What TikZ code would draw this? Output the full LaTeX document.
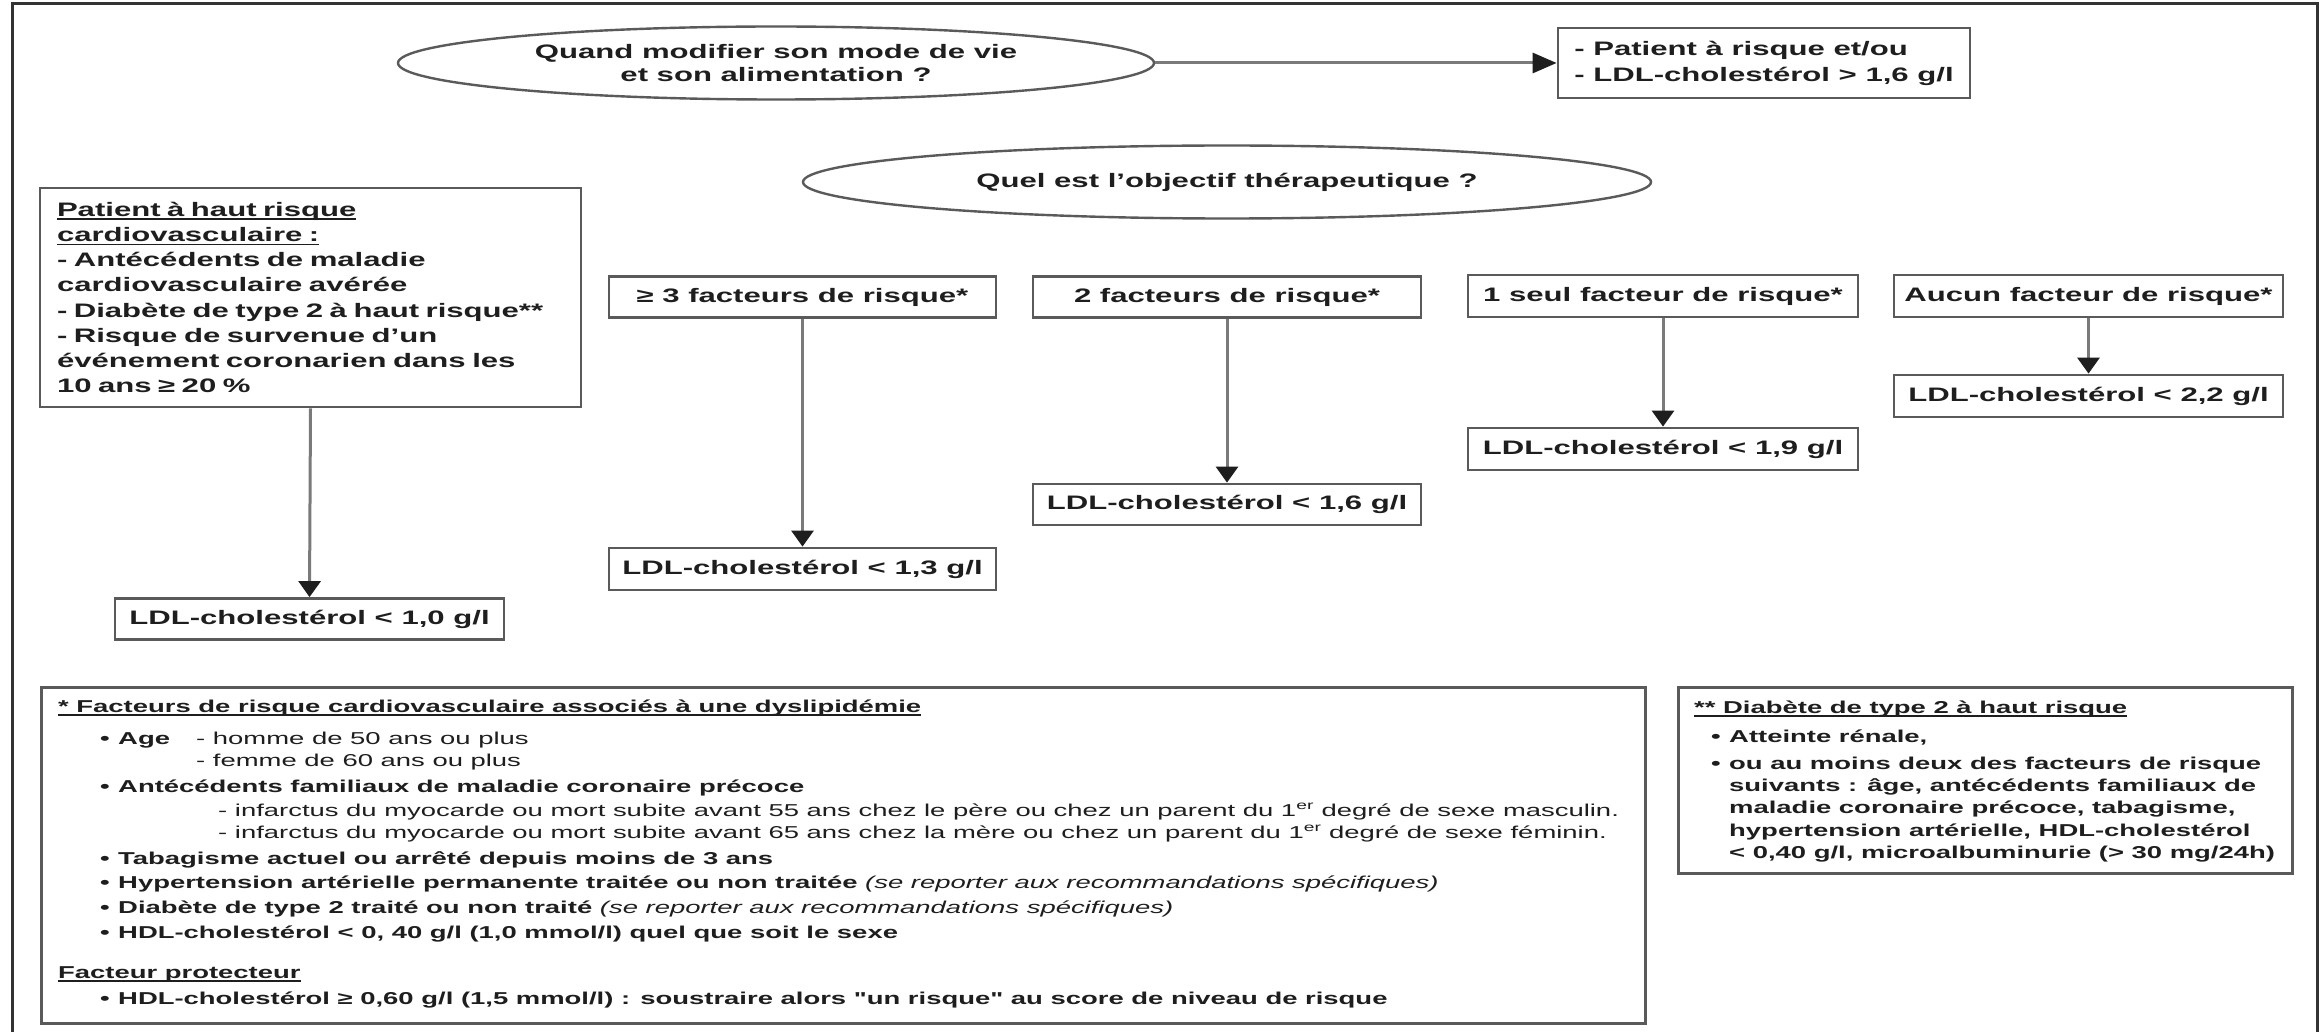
\documentclass[tikz,border=0pt]{standalone}
\usepackage{fontspec}
\setmainfont{Liberation Sans}[FakeStretch=1.595, Ligatures=TeXOff]
\usetikzlibrary{arrows.meta,shapes.geometric}
\definecolor{ink}{HTML}{1E1E1E}
\definecolor{edge}{HTML}{5A5A5A}
\definecolor{shaft}{HTML}{7A7A7A}
\newcommand\flowfont{\bfseries\fontsize{19.5}{25.2}\selectfont}
\newcommand\notefont{\bfseries\fontsize{17.2}{21}\selectfont}
\newcommand\undl[1]{\leavevmode\setbox0\hbox{#1}\rlap{\raisebox{-3.6pt}{\rule{\wd0}{1.5pt}}}\box0}
\newcommand\bul{\makebox[18pt][l]{•}}
\tikzset{
 boxn/.style={draw=edge, line width=2.8pt, fill=white, rectangle, inner sep=0pt, text=ink, font=\flowfont, align=center},
 ell/.style={draw=edge, line width=2.4pt, ellipse, inner sep=0pt, text=ink, font=\flowfont, align=center},
 varr/.style={draw=shaft, line width=3pt, -{Triangle[length=16pt,width=22pt,color=ink]}},
 harr/.style={draw=shaft, line width=3pt, -{Triangle[length=24pt,width=20pt,color=ink]}},
 lt/.style={inner sep=0pt, anchor=base west, text=ink, font=\notefont},
 ltm/.style={lt, font=\mdseries\fontsize{17.2}{21}\selectfont},
}
\begin{document}
\begin{tikzpicture}[x=1pt,y=-1pt]
\useasboundingbox (0,0) rectangle (2323,1032);
\fill[white] (0,0) rectangle (2323,1032);
\draw[draw=black!80, line width=3pt] (12,4) rectangle (2317,1050);

% top
\node[ell, minimum width=756pt, minimum height=73pt, font=\bfseries\fontsize{19.5}{23}\selectfont] (e1) at (776,63) {Quand modifier son mode de vie\\et son alimentation ?};
\node[boxn, minimum width=412pt, minimum height=70pt, align=left, font=\bfseries\fontsize{19.5}{26}\selectfont] (b1) at (1764,63) {- Patient à risque et/ou\\- LDL-cholestérol > 1,6 g/l};
\draw[harr] (e1.east) -- (b1.west);

\node[ell, minimum width=848pt, minimum height=73pt] (e2) at (1227,182) {Quel est l’objectif thérapeutique ?};

% left column
\node[boxn, minimum width=541pt, minimum height=219pt, text width=507pt, align=left] (lb) at (310.5,297.5) {\undl{Patient à haut risque}\\\undl{cardiovasculaire :}\\- Antécédents de maladie\\cardiovasculaire avérée\\- Diabète de type 2 à haut risque**\\- Risque de survenue d’un\\événement coronarien dans les\\10 ans ≥ 20 \%};
\node[boxn, minimum width=389pt, minimum height=41pt] (t10) at (309.5,619) {LDL-cholestérol < 1,0 g/l};
\draw[varr] (lb.south) -- (t10.north);

% factor boxes
\node[boxn, minimum width=387pt, minimum height=41pt] (f3) at (802.5,297) {≥ 3 facteurs de risque*};
\node[boxn, minimum width=388pt, minimum height=41pt] (f2) at (1227,297) {2 facteurs de risque*};
\node[boxn, minimum width=390pt, minimum height=42pt] (f1) at (1663,296) {1 seul facteur de risque*};
\node[boxn, minimum width=389pt, minimum height=42pt] (f0) at (2088.5,296) {Aucun facteur de risque*};

\node[boxn, minimum width=387pt, minimum height=42pt] (t3) at (802.5,569) {LDL-cholestérol < 1,3 g/l};
\node[boxn, minimum width=388pt, minimum height=41pt] (t2) at (1227,504.5) {LDL-cholestérol < 1,6 g/l};
\node[boxn, minimum width=390pt, minimum height=42pt] (t1) at (1663,449) {LDL-cholestérol < 1,9 g/l};
\node[boxn, minimum width=389pt, minimum height=42pt] (t0) at (2088.5,396) {LDL-cholestérol < 2,2 g/l};

\draw[varr] (f3.south) -- (t3.north);
\draw[varr] (f2.south) -- (t2.north);
\draw[varr] (f1.south) -- (t1.north);
\draw[varr] (f0.south) -- (t0.north);

% bottom left box
\node[boxn, minimum width=1604pt, minimum height=336pt, anchor=north west] (bl) at (40,686) {};
\node[lt] (bl1) at (58,712) {\undl{* Facteurs de risque cardiovasculaire associés à une dyslipidémie}};
\node[lt] (bl2) at (100,744) {\bul Age};
\node[ltm] (bl2b) at (196,744) {- homme de 50 ans ou plus};
\node[ltm] (bl3) at (196,766) {- femme de 60 ans ou plus};
\node[lt] (bl4) at (100,792) {\bul Antécédents familiaux de maladie coronaire précoce};
\node[ltm] (bl5) at (218,816) {- infarctus du myocarde ou mort subite avant 55 ans chez le père ou chez un parent du 1\textsuperscript{er} degré de sexe masculin.};
\node[ltm] (bl6) at (218,838) {- infarctus du myocarde ou mort subite avant 65 ans chez la mère ou chez un parent du 1\textsuperscript{er} degré de sexe féminin.};
\node[lt] (bl7) at (100,864) {\bul Tabagisme actuel ou arrêté depuis moins de 3 ans};
\node[lt] (bl8) at (100,888) {\bul Hypertension artérielle permanente traitée ou non traitée {\mdseries\itshape (se reporter aux recommandations spécifiques)}};
\node[lt] (bl9) at (100,913) {\bul Diabète de type 2 traité ou non traité {\mdseries\itshape (se reporter aux recommandations spécifiques)}};
\node[lt] (bl10) at (100,938) {\bul HDL-cholestérol < 0, 40 g/l (1,0 mmol/l) quel que soit le sexe};
\node[lt] (bl11) at (58,978) {\undl{Facteur protecteur}};
\node[lt] (bl12) at (100,1004) {\bul HDL-cholestérol ≥ 0,60 g/l (1,5 mmol/l) : soustraire alors "un risque" au score de niveau de risque};

% bottom right box
\node[boxn, minimum width=614pt, minimum height=186pt, anchor=north west] (br) at (1677,686) {};
\node[lt] (br1) at (1694,713) {\undl{** Diabète de type 2 à haut risque}};
\node[lt] (br2) at (1711,742) {\bul Atteinte rénale,};
\node[lt] (br3) at (1711,769) {\bul ou au moins deux des facteurs de risque};
\node[lt] (br4) at (1729,791) {suivants : âge, antécédents familiaux de};
\node[lt] (br5) at (1729,813) {maladie coronaire précoce, tabagisme,};
\node[lt] (br6) at (1729,836) {hypertension artérielle, HDL-cholestérol};
\node[lt] (br7) at (1729,858) {< 0,40 g/l, microalbuminurie (> 30 mg/24h)};
\end{tikzpicture}
\end{document}
